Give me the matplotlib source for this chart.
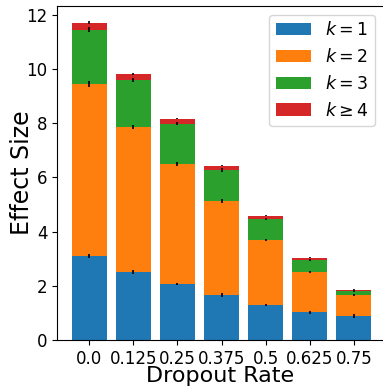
import numpy as np
import matplotlib.pyplot as plt

rates = ["0.0", "0.125", "0.25", "0.375", "0.5", "0.625", "0.75"]
k1 = [3.10, 2.51, 2.07, 1.66, 1.29, 1.03, 0.89]
k2 = [6.35, 5.36, 4.43, 3.47, 2.40, 1.48, 0.77]
k3 = [2.00, 1.73, 1.48, 1.15, 0.78, 0.44, 0.15]
k4 = [0.26, 0.22, 0.18, 0.15, 0.11, 0.08, 0.04]
err1 = [0.07, 0.06, 0.05, 0.06, 0.04, 0.05, 0.06]
err2 = [0.10, 0.08, 0.07, 0.08, 0.05, 0.05, 0.05]
err3 = [0.10, 0.08, 0.06, 0.08, 0.05, 0.04, 0.04]
err4 = [0.05, 0.03, 0.02, 0.02, 0.02, 0.02, 0.02]

fig = plt.figure(figsize=(3.83, 3.90), dpi=100)
ax = fig.add_axes([0.149, 0.128, 0.853, 0.857])

x = np.arange(len(rates))
bottom = np.zeros(len(rates))
labels = ["$k=1$", "$k=2$", "$k=3$", r"$k\geq4$"]
colors = ["#1f77b4", "#ff7f0e", "#2ca02c", "#d62728"]
for vals, errs, lab, col in zip([k1, k2, k3, k4], [err1, err2, err3, err4], labels, colors):
    ax.bar(x, vals, 0.8, bottom=bottom, color=col, label=lab)
    top = bottom + np.array(vals)
    ax.errorbar(x, top, yerr=errs, fmt="none", ecolor="k", elinewidth=1.2)
    bottom = top

ax.set_xticks(x)
ax.set_xticklabels(rates, fontsize=12)
ax.tick_params(axis="y", labelsize=12)
ax.set_xlim(-0.73, 6.68)
ax.set_ylim(0, 12.33)
ax.set_yticks([0, 2, 4, 6, 8, 10, 12])
ax.set_xlabel("Dropout Rate", fontsize=16, labelpad=-1)
ax.set_ylabel("Effect Size", fontsize=17)
ax.yaxis.set_label_coords(-0.072, 0.5)
ax.legend(fontsize=12.5, loc="upper right")
plt.savefig("out.png", dpi=100)
